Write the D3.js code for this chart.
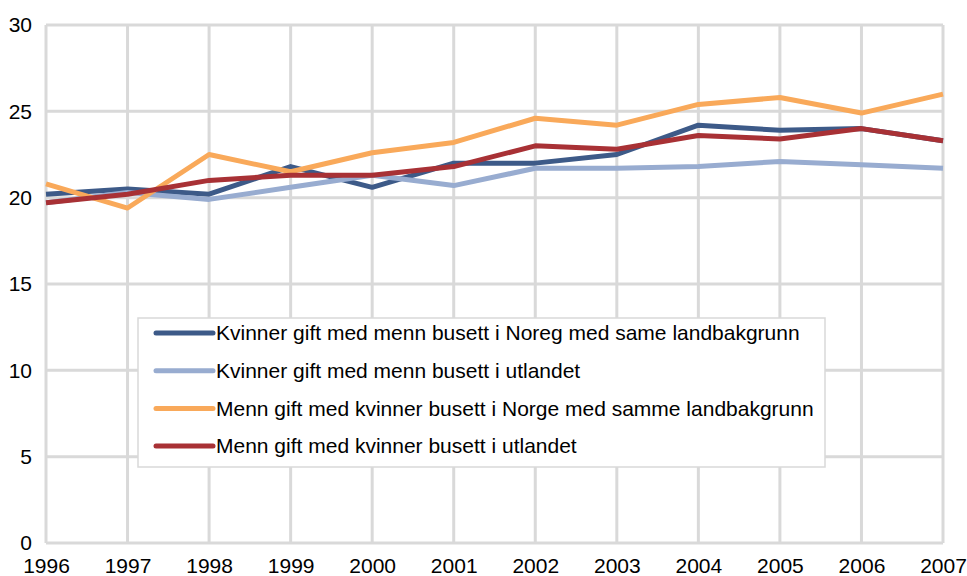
<!DOCTYPE html>
<html>
<head>
<meta charset="utf-8">
<script src="https://cdn.jsdelivr.net/npm/d3@7"></script>
<style>
  body { margin: 0; background: #fff; }
  text { font-family: "Liberation Sans", Arial, sans-serif; fill: #000; }
</style>
</head>
<body>
<div id="chart"></div>
<script>
var svgWidth = 967;
var svgHeight = 576;

var margin = { top: 25, right: 24, bottom: 33, left: 46 };
var width = svgWidth - margin.left - margin.right;
var height = svgHeight - margin.top - margin.bottom;

// data
var years = [1996, 1997, 1998, 1999, 2000, 2001, 2002, 2003, 2004, 2005, 2006, 2007];
var yTicks = [0, 5, 10, 15, 20, 25, 30];

var kvinnerNoreg = [20.2, 20.5, 20.2, 21.8, 20.6, 22.0, 22.0, 22.5, 24.2, 23.9, 24.0, 23.3];
var kvinnerUtland = [19.7, 20.3, 19.9, 20.6, 21.3, 20.7, 21.7, 21.7, 21.8, 22.1, 21.9, 21.7];
var mennNorge = [20.8, 19.4, 22.5, 21.5, 22.6, 23.2, 24.6, 24.2, 25.4, 25.8, 24.9, 26.0];
var mennUtland = [19.7, 20.2, 21.0, 21.3, 21.3, 21.8, 23.0, 22.8, 23.6, 23.4, 24.0, 23.3];

var seriesNames = [
  "Kvinner gift med menn busett i Noreg med same landbakgrunn",
  "Kvinner gift med menn busett i utlandet",
  "Menn gift med kvinner busett i Norge med samme landbakgrunn",
  "Menn gift med kvinner busett i utlandet"
];
var seriesColors = ["#3d5a88", "#98acd0", "#f9a95a", "#a83135"];
var seriesValues = [kvinnerNoreg, kvinnerUtland, mennNorge, mennUtland];

var series = seriesNames.map(function(name, i) {
  return { name: name, color: seriesColors[i], values: seriesValues[i] };
});

var svg = d3.select("#chart")
  .append("svg")
  .attr("width", svgWidth)
  .attr("height", svgHeight);

var chartGroup = svg.append("g")
  .attr("transform", `translate(${margin.left}, ${margin.top})`);

var xScale = d3.scalePoint()
  .domain(years)
  .range([0, width]);

var yScale = d3.scaleLinear()
  .domain([0, 30])
  .range([height, 0]);

// gridlines
chartGroup.append("g")
  .selectAll("line")
  .data(years)
  .enter()
  .append("line")
  .attr("x1", d => xScale(d))
  .attr("x2", d => xScale(d))
  .attr("y1", 0)
  .attr("y2", height)
  .attr("stroke", "#d9d9d9")
  .attr("stroke-width", 3);

chartGroup.append("g")
  .selectAll("line")
  .data(yTicks)
  .enter()
  .append("line")
  .attr("x1", 0)
  .attr("x2", width)
  .attr("y1", d => yScale(d))
  .attr("y2", d => yScale(d))
  .attr("stroke", "#d9d9d9")
  .attr("stroke-width", 3);

// axes
var leftAxis = d3.axisLeft(yScale).tickValues(yTicks).tickSize(0).tickPadding(14);
var bottomAxis = d3.axisBottom(xScale).tickSize(0).tickPadding(15);

var yAxis = chartGroup.append("g").call(leftAxis);
var xAxis = chartGroup.append("g")
  .attr("transform", `translate(0, ${height})`)
  .call(bottomAxis);

[xAxis, yAxis].forEach(function(ax) {
  ax.select(".domain").remove();
  ax.selectAll("text")
    .style("font-family", "'Liberation Sans', Arial, sans-serif")
    .style("font-size", "21px")
    .attr("fill", "#000");
});

// lines
var line = d3.line()
  .x((d, i) => xScale(years[i]))
  .y(d => yScale(d));

chartGroup.append("g")
  .selectAll("path")
  .data(series)
  .enter()
  .append("path")
  .attr("d", d => line(d.values))
  .attr("fill", "none")
  .attr("stroke", d => d.color)
  .attr("stroke-width", 5)
  .attr("stroke-linejoin", "round");

// legend
var legend = svg.append("g")
  .attr("transform", "translate(138, 318)");

legend.append("rect")
  .attr("width", 687)
  .attr("height", 149)
  .attr("fill", "#fff")
  .attr("stroke", "#d9d9d9")
  .attr("stroke-width", 1.5);

var items = legend.selectAll(".item")
  .data(series)
  .enter()
  .append("g")
  .attr("transform", (d, i) => `translate(0, ${15 + i * 37.7})`);

items.append("line")
  .attr("x1", 18)
  .attr("x2", 75)
  .attr("y1", 0)
  .attr("y2", 0)
  .attr("stroke", d => d.color)
  .attr("stroke-width", 5)
  .attr("stroke-linecap", "round");

items.append("text")
  .attr("x", 78)
  .attr("y", 0)
  .attr("dy", "0.35em")
  .style("font-size", "21px")
  .text(d => d.name);
</script>
</body>
</html>
